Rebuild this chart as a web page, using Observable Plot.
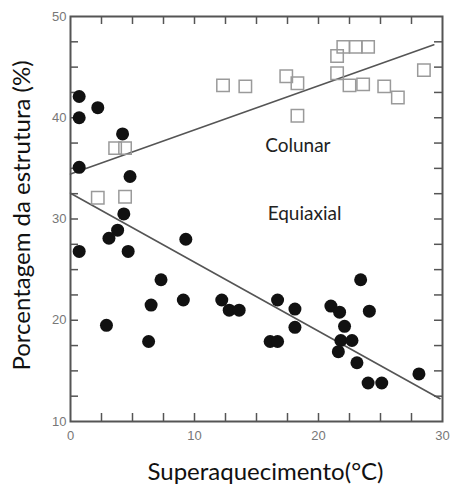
<!DOCTYPE html>
<html><head><meta charset="utf-8">
<script src="https://cdn.jsdelivr.net/npm/d3@7"></script>
<script src="https://cdn.jsdelivr.net/npm/@observablehq/plot@0.6"></script>
<style>body{margin:0;background:#fff}</style>
</head><body><div id="chart"></div>
<script>
// Equiaxial (filled circles): superheat (°C), structure (%)
const equiaxialX = [0.7,0.7,2.2,4.2,0.7,4.8,4.3,3.8,3.1,9.3,0.7,4.65,7.3,6.5,9.1,2.9,6.3,12.2,12.8,13.6,16.7,18.1,18.1,16.1,16.7,21.0,21.7,22.1,21.8,22.7,21.6,23.1,23.4,24.1,24.0,25.1,28.1];
const equiaxialY = [42.1,40.0,41.0,38.4,35.1,34.2,30.5,28.9,28.1,28.0,26.8,26.8,24.0,21.5,22.0,19.5,17.9,22.0,21.0,21.0,22.0,21.1,19.3,17.9,17.9,21.4,20.8,19.4,18.0,18.0,16.9,15.8,24.0,20.9,13.8,13.8,14.7];
// Colunar (open squares)
const colunarX = [2.2,4.4,3.6,4.4,12.3,14.1,17.4,18.3,18.3,21.5,21.5,22.0,23.0,24.0,22.5,23.6,25.3,26.4,28.5];
const colunarY = [32.1,32.2,37.0,37.0,43.2,43.1,44.1,43.4,40.2,46.1,44.4,47.0,47.0,47.0,43.2,43.3,43.1,42.0,44.7];
// Fit lines (endpoints)
const colunarFitX = [0, 29.3];
const colunarFitY = [34.45, 47.2];
const equiaxialFitX = [0, 29.8];
const equiaxialFitY = [32.55, 12.25];
// Axis ticks
const xMinorTicks = [2.5,5,7.5,10,12.5,15,17.5,20,22.5,25,27.5];
const yMinorTicks = [12.5,15,17.5,20,22.5,25,27.5,30,32.5,35,37.5,40,42.5,45,47.5];
const xTickLabels = [0,10,20,30];
const yTickLabels = [10,20,30,40,50];
const xLabel = "Superaquecimento(°C)";
const yLabel = "Porcentagem da estrutura (%)";
const regionLabels = [{x:15.7, y:37.2, text:"Colunar"},{x:15.9, y:30.5, text:"Equiaxial"}];

const eq = equiaxialX.map((x,i)=>({x, y:equiaxialY[i]}));
const co = colunarX.map((x,i)=>({x, y:colunarY[i]}));
const coFit = colunarFitX.map((x,i)=>({x, y:colunarFitY[i]}));
const eqFit = equiaxialFitX.map((x,i)=>({x, y:equiaxialFitY[i]}));

const W = 456, H = 488, mL = 70, mR = 14, mT = 16, mB = 67;
const innerW = W - mL - mR, innerH = H - mT - mB, tl = 8;

const chart = Plot.plot({
  width: W, height: H,
  marginLeft: mL, marginRight: mR, marginTop: mT, marginBottom: mB,
  style: {fontFamily: "Lato, sans-serif", background: "#fff"},
  x: {domain: [0, 30], label: null},
  y: {domain: [10, 50], label: null},
  marks: [
    Plot.axisX(xTickLabels, {anchor: "bottom", label: null, tickSize: 0, tickPadding: 9, fontSize: 13, fill: "#777", fontFamily: "Liberation Sans", tickFormat: d => d}),
    Plot.axisY(yTickLabels, {anchor: "left", label: null, tickSize: 0, tickPadding: 4, fontSize: 13, fill: "#777", fontFamily: "Liberation Sans", tickFormat: d => d}),
    Plot.tickX(xMinorTicks, {x: d => d, stroke: "#555", strokeWidth: 1.5, insetTop: innerH - tl}),
    Plot.tickX(xMinorTicks, {x: d => d, stroke: "#555", strokeWidth: 1.5, insetBottom: innerH - tl}),
    Plot.tickY(yMinorTicks, {y: d => d, stroke: "#555", strokeWidth: 1.5, insetRight: innerW - tl}),
    Plot.tickY(yMinorTicks, {y: d => d, stroke: "#555", strokeWidth: 1.5, insetLeft: innerW - tl}),
    Plot.frame({stroke: "#555", strokeWidth: 2}),
    Plot.line(coFit, {x: "x", y: "y", stroke: "#555", strokeWidth: 1.6}),
    Plot.line(eqFit, {x: "x", y: "y", stroke: "#555", strokeWidth: 1.6}),
    Plot.dot(co, {x: "x", y: "y", symbol: "square", r: 7, stroke: "#9a9a9a", strokeWidth: 1.5, fill: "none"}),
    Plot.dot(eq, {x: "x", y: "y", r: 6.5, fill: "#111", stroke: "none"}),
    Plot.text(regionLabels, {x: "x", y: "y", text: "text", textAnchor: "start", fontSize: 19, fill: "#222"}),
    Plot.text([xLabel], {frameAnchor: "bottom", textAnchor: "middle", lineAnchor: "middle", dy: 51, dx: 9, fontSize: 24, fill: "#111"}),
    Plot.text([yLabel], {frameAnchor: "left", textAnchor: "middle", lineAnchor: "middle", dx: -48, dy: -3.5, rotate: -90, fontSize: 24, fill: "#111"})
  ]
});
document.getElementById("chart").appendChild(chart);
</script>
</body></html>
